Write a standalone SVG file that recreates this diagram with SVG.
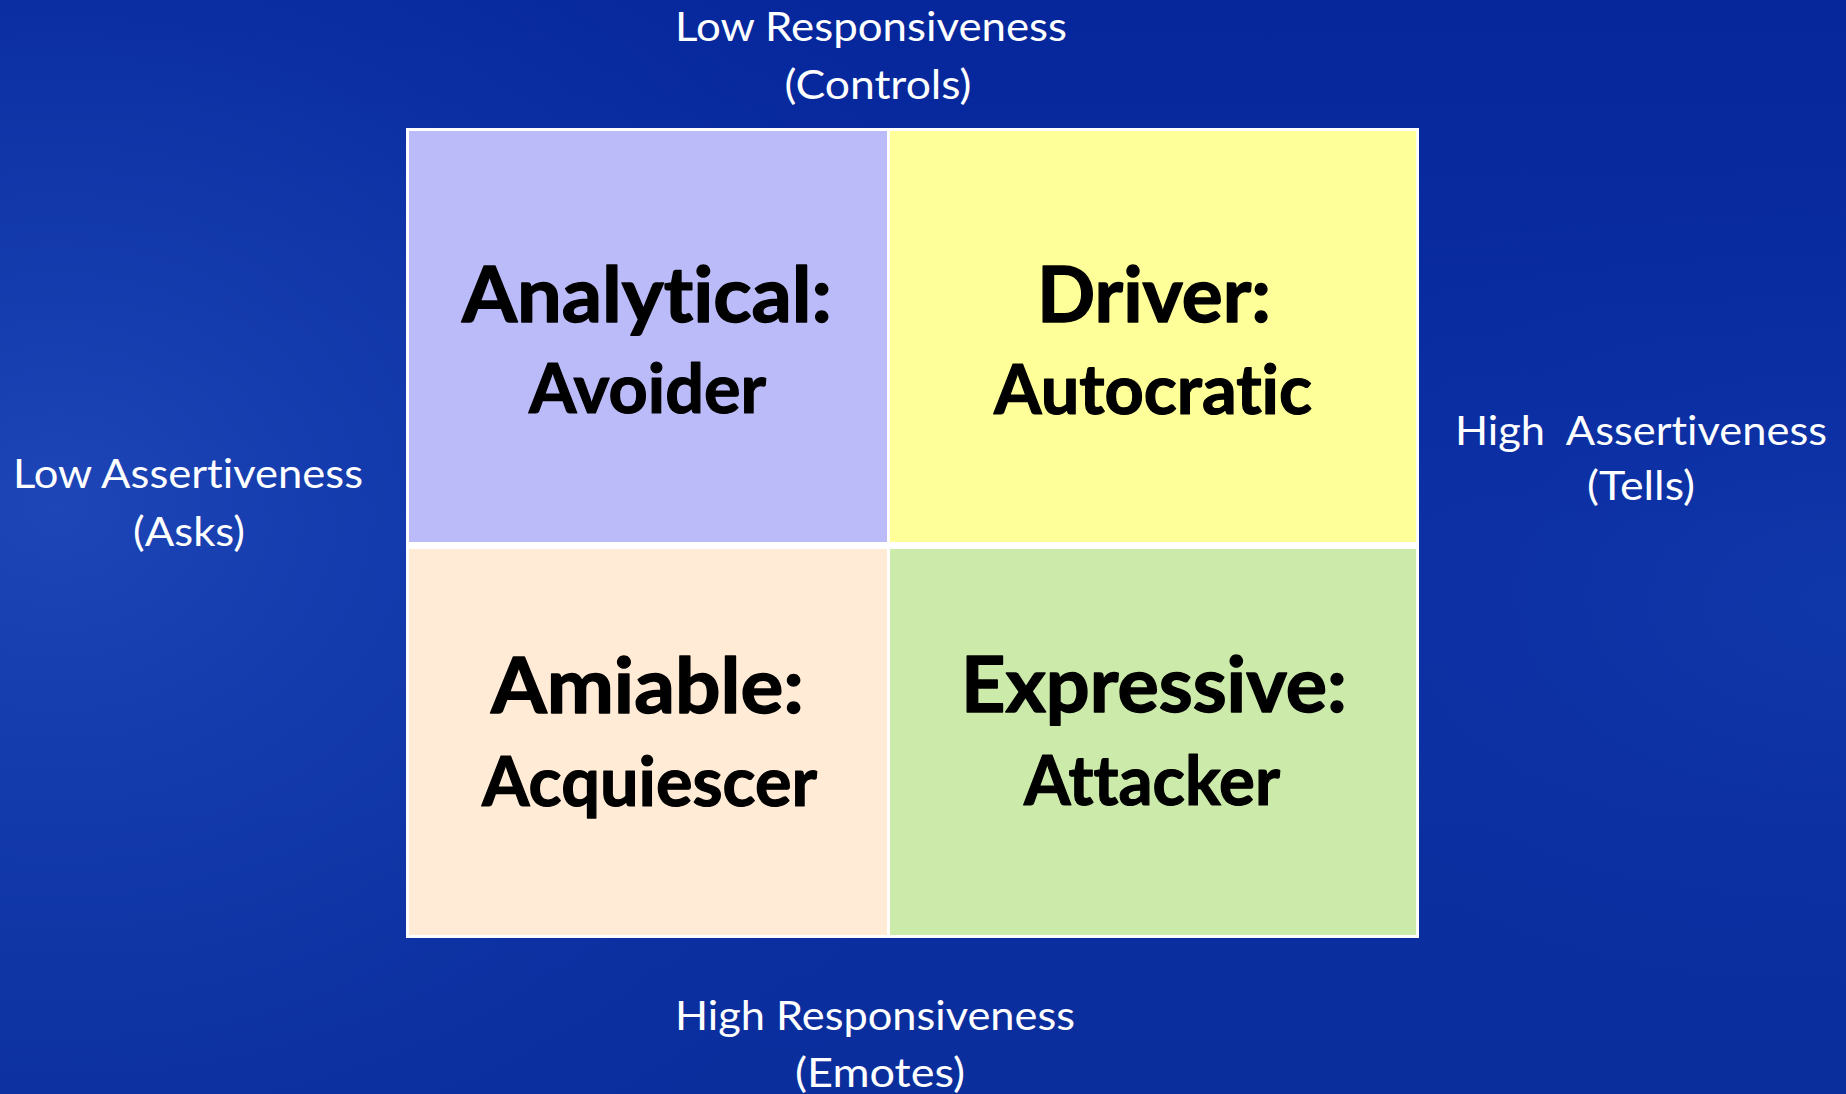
<svg xmlns="http://www.w3.org/2000/svg" width="1846" height="1094" viewBox="0 0 1846 1094">
  <defs>
    <linearGradient id="bgBase" x1="0" y1="0" x2="0" y2="1">
      <stop offset="0" stop-color="#06279c"/>
      <stop offset="0.5" stop-color="#0c2fa3"/>
      <stop offset="1" stop-color="#0b2e9d"/>
    </linearGradient>
    <radialGradient id="bgGlow" cx="0.02" cy="0.46" r="0.55" gradientTransform="translate(0.01 0) scale(1 1.4) translate(0 -0.13)">
      <stop offset="0" stop-color="#1f47b8" stop-opacity="0.95"/>
      <stop offset="0.5" stop-color="#1640b0" stop-opacity="0.45"/>
      <stop offset="1" stop-color="#0c2fa3" stop-opacity="0"/>
    </radialGradient>
    <radialGradient id="bgGlowRight" cx="1" cy="0.55" r="0.4">
      <stop offset="0" stop-color="#1440b0" stop-opacity="0.5"/>
      <stop offset="1" stop-color="#0c2fa3" stop-opacity="0"/>
    </radialGradient>
  </defs>
  <style>
    text { font-variant-ligatures: none; font-feature-settings: "liga" 0, "clig" 0; }
    .axis { font-family: Lato, "Open Sans", "Liberation Sans", sans-serif; font-size: 41px; fill: #ffffff; text-anchor: middle; white-space: pre; }
    .title { font-family: Lato, "Open Sans", "Liberation Sans", sans-serif; font-weight: bold; font-size: 77px; fill: #000000; stroke: #000000; stroke-width: 1.4px; stroke-linejoin: round; text-anchor: middle; }
    .sub { font-family: Lato, "Open Sans", "Liberation Sans", sans-serif; font-weight: bold; font-size: 68px; fill: #000000; stroke: #000000; stroke-width: 1.2px; stroke-linejoin: round; text-anchor: middle; }
  </style>

  <!-- background -->
  <rect x="0" y="0" width="1846" height="1094" fill="url(#bgBase)"/>
  <rect x="0" y="0" width="1846" height="1094" fill="url(#bgGlow)"/>
  <rect x="0" y="0" width="1846" height="1094" fill="url(#bgGlowRight)"/>

  <!-- white frame behind the four quadrants -->
  <rect id="grid-frame" x="406" y="128" width="1013" height="810" fill="#ffffff"/>

  <g id="analytical">
    <rect x="409" y="131" width="478" height="411" fill="#bbbbf9"/>
    <text class="title" x="647" y="322" textLength="370" lengthAdjust="spacingAndGlyphs">Analytical:</text>
    <text class="sub" x="647.5" y="413" textLength="237" lengthAdjust="spacingAndGlyphs">Avoider</text>
  </g>

  <g id="driver">
    <rect x="890" y="131" width="526" height="411" fill="#ffff99"/>
    <text class="title" x="1154" y="322" textLength="234" lengthAdjust="spacingAndGlyphs">Driver:</text>
    <text class="sub" x="1153" y="414" textLength="318" lengthAdjust="spacingAndGlyphs">Autocratic</text>
  </g>

  <g id="amiable">
    <rect x="409" y="549" width="478" height="386" fill="#ffebd6"/>
    <text class="title" x="647.5" y="713" textLength="313" lengthAdjust="spacingAndGlyphs">Amiable:</text>
    <text class="sub" x="649.5" y="806" textLength="335" lengthAdjust="spacingAndGlyphs">Acquiescer</text>
  </g>

  <g id="expressive">
    <rect x="890" y="549" width="526" height="386" fill="#cceaaa"/>
    <text class="title" x="1154" y="712" textLength="386" lengthAdjust="spacingAndGlyphs">Expressive:</text>
    <text class="sub" x="1152" y="805" textLength="256" lengthAdjust="spacingAndGlyphs">Attacker</text>
  </g>

  <g id="label-top">
    <text class="axis" x="871" y="41" textLength="392" lengthAdjust="spacingAndGlyphs">Low Responsiveness</text>
    <text class="axis" x="878" y="99" textLength="187" lengthAdjust="spacingAndGlyphs">(Controls)</text>
  </g>

  <g id="label-bottom">
    <text class="axis" x="875" y="1030" textLength="400" lengthAdjust="spacingAndGlyphs">High Responsiveness</text>
    <text class="axis" x="880" y="1087" textLength="170" lengthAdjust="spacingAndGlyphs">(Emotes)</text>
  </g>

  <g id="label-left">
    <text class="axis" x="188" y="488" textLength="350" lengthAdjust="spacingAndGlyphs">Low Assertiveness</text>
    <text class="axis" x="189" y="546" textLength="112" lengthAdjust="spacingAndGlyphs">(Asks)</text>
  </g>

  <g id="label-right">
    <text class="axis" x="1641" y="445" textLength="372" lengthAdjust="spacingAndGlyphs">High  Assertiveness</text>
    <text class="axis" x="1641" y="500" textLength="108" lengthAdjust="spacingAndGlyphs">(Tells)</text>
  </g>
</svg>
